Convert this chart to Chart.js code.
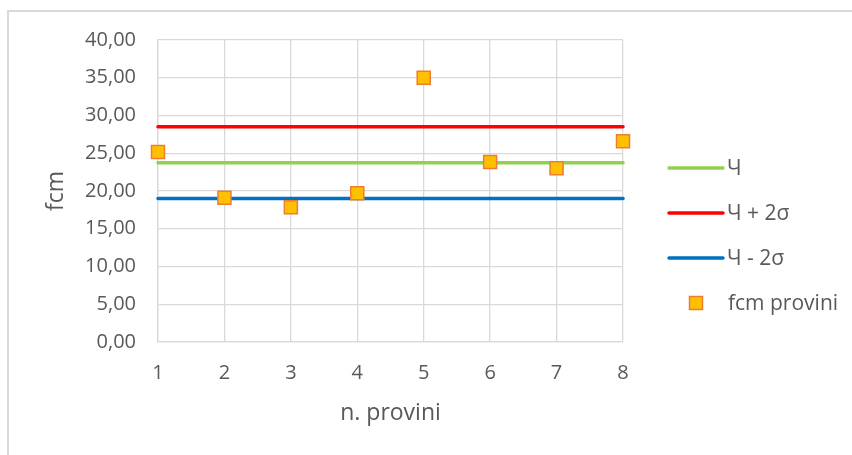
<!DOCTYPE html>
<html>
<head>
<meta charset="utf-8">
<script src="https://cdn.jsdelivr.net/npm/chart.js@4.4.1/dist/chart.umd.min.js"></script>
<style>
  html, body { margin: 0; padding: 0; background: #ffffff; }
  #wrap { position: relative; width: 852px; height: 455px; overflow: hidden; }
  #frame { position: absolute; left: 7px; top: 10px; width: 900px; height: 500px;
           border-left: 2px solid #d9d9d9; border-top: 2px solid #d9d9d9; }
  #c { position: absolute; left: 0; top: 0; }
</style>
</head>
<body>
<div id="wrap">
  <div id="frame"></div>
  <canvas id="c" width="852" height="455"></canvas>
</div>
<script>
// Specimen numbers (n. provini)
const provini = [1, 2, 3, 4, 5, 6, 7, 8];
// Measured compressive strength of each specimen
const fcmProvini = [25.17, 19.10, 17.84, 19.69, 35.00, 23.84, 23.00, 26.60];
// Mean and ±2σ reference levels
const media = [23.75, 23.75, 23.75, 23.75, 23.75, 23.75, 23.75, 23.75];
const mediaPiu2s = [28.50, 28.50, 28.50, 28.50, 28.50, 28.50, 28.50, 28.50];
const mediaMeno2s = [19.00, 19.00, 19.00, 19.00, 19.00, 19.00, 19.00, 19.00];
// Legend texts
const legendLabels = ['Ч', 'Ч + 2σ', 'Ч - 2σ', 'fcm provini'];

const FONT = "'Open Sans', sans-serif";
const TEXT = '#595959';
const GRID = '#d9d9d9';

const toXY = (vals) => vals.map((v, i) => ({ x: provini[i], y: v }));

// Legend drawn at the right of the plot area
const sideLegend = {
  id: 'sideLegend',
  afterDraw(chart) {
    const { ctx, chartArea } = chart;
    const order = [1, 2, 3, 0];
    const x0 = chartArea.right + 46;
    ctx.save();
    ctx.font = '21px ' + FONT;
    ctx.textBaseline = 'middle';
    ctx.fillStyle = TEXT;
    order.forEach((di, i) => {
      const ds = chart.data.datasets[di];
      const y = chartArea.top + 128 + i * 45;
      if (ds.showLine === false) {
        const s = 13;
        ctx.fillStyle = ds.backgroundColor;
        ctx.strokeStyle = ds.borderColor;
        ctx.lineWidth = 1.5;
        ctx.fillRect(x0 + 27 - s / 2, y - s / 2, s, s);
        ctx.strokeRect(x0 + 27 - s / 2, y - s / 2, s, s);
        ctx.fillStyle = TEXT;
        ctx.fillText(legendLabels[i], x0 + 59, y + 1);
      } else {
        ctx.strokeStyle = ds.borderColor;
        ctx.lineWidth = 3.5;
        ctx.lineCap = 'round';
        ctx.beginPath();
        ctx.moveTo(x0, y);
        ctx.lineTo(x0 + 54, y);
        ctx.stroke();
        ctx.fillStyle = TEXT;
        ctx.fillText(legendLabels[i], x0 + 58, y + 1);
      }
    });
    ctx.restore();
  }
};

const lineDs = (label, vals, color) => ({
  label, data: toXY(vals), type: 'line',
  borderColor: color, backgroundColor: color,
  borderWidth: 3.5, borderCapStyle: 'round',
  pointRadius: 0, showLine: true, order: 1, clip: false
});

new Chart(document.getElementById('c'), {
  type: 'scatter',
  data: {
    datasets: [
      {
        label: legendLabels[3], data: toXY(fcmProvini),
        pointStyle: 'rect', pointRadius: 9.2, pointHoverRadius: 9.2,
        backgroundColor: '#ffc000', borderColor: '#ed7d31', borderWidth: 1.5,
        showLine: false, order: 0, clip: false
      },
      lineDs(legendLabels[0], media, '#92d050'),
      lineDs(legendLabels[1], mediaPiu2s, '#ff0000'),
      lineDs(legendLabels[2], mediaMeno2s, '#0070c0')
    ]
  },
  options: {
    responsive: false,
    animation: false,
    events: [],
    layout: { padding: { left: 0, right: 229, top: 40, bottom: 0 } },
    plugins: { legend: { display: false }, tooltip: { enabled: false } },
    scales: {
      x: {
        type: 'linear', min: 1, max: 8,
        afterFit: (s) => { s.height = 113; },
        grid: { color: GRID, lineWidth: 1.3, drawTicks: false },
        border: { color: GRID, width: 1.3 },
        ticks: { stepSize: 1, padding: 19, color: TEXT, font: { family: FONT, size: 20 } },
        title: { display: true, text: 'n. provini', color: TEXT,
                 font: { family: FONT, size: 23 }, padding: { top: 0, bottom: 28 } }
      },
      y: {
        min: 0, max: 40,
        afterFit: (s) => { s.width = 158; },
        grid: { color: GRID, lineWidth: 1.3, drawTicks: false },
        border: { color: GRID, width: 1.3 },
        ticks: { stepSize: 5, padding: 22, color: TEXT, font: { family: FONT, size: 20 },
                 callback: (v) => v.toFixed(2).replace('.', ',') },
        title: { display: true, text: 'fcm', color: TEXT,
                 font: { family: FONT, size: 23 }, padding: { top: 43, bottom: 0 } }
      }
    }
  },
  plugins: [sideLegend]
});
</script>
</body>
</html>
